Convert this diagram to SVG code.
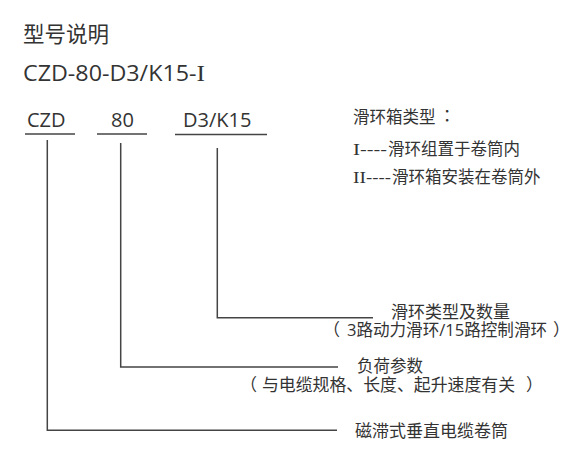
<svg xmlns="http://www.w3.org/2000/svg" width="571" height="458" viewBox="0 0 571 458">
<style>
text{font-family:"Open Sans","Noto Sans CJK SC",sans-serif;fill:#333}
.m{font-size:17px}
.n{font-size:16.5px}
.s{font-family:"Liberation Serif","Noto Sans CJK SC",serif}
.ln{stroke:#444;stroke-width:1.5;fill:none}
</style>
<rect width="571" height="458" fill="#fff"/>
<g id="title">
<text x="23" y="42" style="font-size:21.5px;font-family:'Noto Sans CJK SC',sans-serif">型号说明</text>
<text x="23" y="81" style="font-size:21px" textLength="182" lengthAdjust="spacingAndGlyphs">CZD-80-D3/K15-<tspan class="s" style="font-size:23px">I</tspan></text>
</g>
<g id="seg-czd">
<text x="27" y="127" style="font-size:20px">CZD</text>
<line class="ln" x1="25" y1="134" x2="75" y2="134"/>
</g>
<g id="seg-80">
<text x="111" y="127" style="font-size:20px">80</text>
<line class="ln" x1="97" y1="134" x2="147" y2="134"/>
</g>
<g id="seg-d3k15">
<text x="183" y="127" style="font-size:20px">D3/K15</text>
<line class="ln" x1="175" y1="134.5" x2="267" y2="134.5" stroke-width="2"/>
</g>
<g id="note-box">
<text class="n" x="353" y="123">滑环箱类型</text>
<text class="n" x="443" y="121">：</text>
<text class="n" x="353" y="155" textLength="34" lengthAdjust="spacingAndGlyphs"><tspan class="s">I</tspan>----</text>
<text class="n" x="388" y="155">滑环组置于卷筒内</text>
<text class="n" x="353" y="183" textLength="38" lengthAdjust="spacingAndGlyphs"><tspan class="s">II</tspan>----</text>
<text class="n" x="392" y="183">滑环箱安装在卷筒外</text>
</g>
<g id="connectors">
<polyline class="ln" points="217.3,148 217.3,317.7 373,317.7"/>
<polyline class="ln" points="120.7,143 120.7,367 338,367"/>
<polyline class="ln" points="47.3,140 47.3,430.3 337,430.3"/>
</g>
<g id="label-d3k15">
<text class="m" x="391" y="318">滑环类型及数量</text>
<text class="m" x="323" y="336">（</text>
<text class="m" x="347" y="336" textLength="200" lengthAdjust="spacingAndGlyphs">3路动力滑环/15路控制滑环</text>
<text class="m" x="553" y="336">）</text>
</g>
<g id="label-80">
<text class="n" x="357" y="372">负荷参数</text>
<text class="m" x="240" y="391">（</text>
<text class="m" x="262" y="391" textLength="253" lengthAdjust="spacingAndGlyphs">与电缆规格、长度、起升速度有关</text>
<text class="m" x="526" y="391">）</text>
</g>
<g id="label-czd">
<text class="m" x="355" y="437">磁滞式垂直电缆卷筒</text>
</g>
</svg>
